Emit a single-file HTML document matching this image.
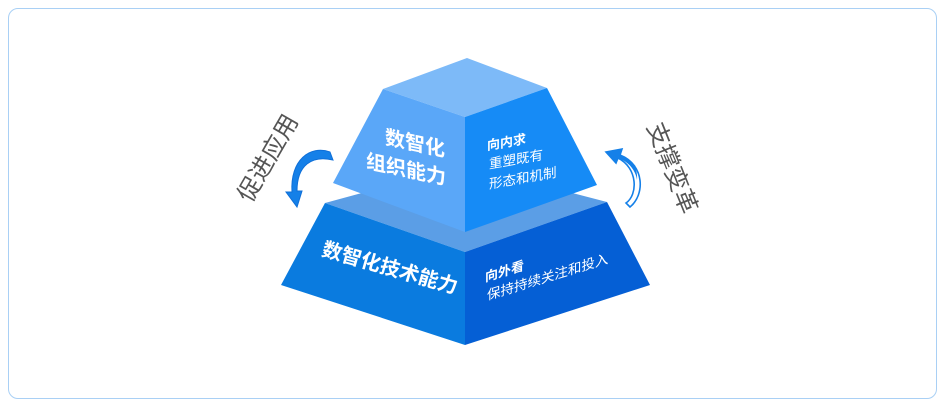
<!DOCTYPE html>
<html><head><meta charset="utf-8"><style>
html,body{margin:0;padding:0;background:#fff;}
body{width:946px;height:410px;overflow:hidden;position:relative;font-family:"Liberation Sans","Noto Sans CJK SC",sans-serif;}
.frame{position:absolute;left:8px;top:8px;width:929px;height:391px;border:1px solid #a9d0f5;border-radius:10px;box-sizing:border-box;}
</style></head><body>
<div class="frame"></div>
<svg width="946" height="410" style="position:absolute;left:0;top:0" font-family="Liberation Sans, Noto Sans CJK SC, sans-serif">
  <!-- lower block -->
  <polygon points="325,203 465,165 607,202 465,252" fill="#5b9ee6"/>
  <polygon points="325,203 465,252 465,345 281,285" fill="#0a7bdf"/>
  <polygon points="465,252 607,202 650,285 465,345" fill="#055fd5"/>
  <!-- upper block -->
  <polygon points="383,89 467,58 547,88 465,117" fill="#7dbaf8"/>
  <polygon points="383,89 465,117 465,232 333,183" fill="#5aa7f8"/>
  <polygon points="465,117 547,88 597,185 465,232" fill="#168bf6"/>
  <!-- upper text -->
  <g fill="#fff" font-weight="bold" font-size="20" transform="skewY(12)">
    <text x="385" y="62">数智化</text>
    <text x="366" y="90">组织能力</text>
  </g>
  <g fill="#fff" transform="skewY(-10)">
    <text x="487" y="236" font-size="13" font-weight="bold">向内求</text>
    <text x="489" y="255" font-size="13.5">重塑既有</text>
    <text x="489" y="275" font-size="13.5">形态和机制</text>
  </g>
  <!-- lower text -->
  <g fill="#fff" font-weight="bold" font-size="20" transform="rotate(16 390 275)">
    <text x="318" y="275">数智化技术能力</text>
  </g>
  <g fill="#fff" transform="skewY(-17)">
    <text x="485" y="430" font-size="13" font-weight="bold">向外看</text>
    <text x="487" y="449" font-size="13.5">保持持续关注和投入</text>
  </g>
  <!-- side labels -->
  <text x="268" y="166" font-size="24" fill="#555" text-anchor="middle" transform="rotate(-60 268 158)">促进应用</text>
  <text x="672" y="176" font-size="24" fill="#555" text-anchor="middle" transform="rotate(68 672 168)">支撑变革</text>
  <!-- left arrow -->
  <path d="M330,152 C310,145 290,160 292,192 L286,192 L297,207 L302,191 L297,191 C297,165 312,155 333,160 Z" fill="#1580e8" stroke="#0f6fd8" stroke-width="1"/>
  <!-- right arrow -->
  <path d="M630,207 C645,195 645,165 620,155 L622,149 L606,152 L616,163 L618,158 C638,168 638,195 626,203 Z" fill="#fff" stroke="#1580e8" stroke-width="1.6"/>
  <path d="M620,155 L622,149 L606,152 L616,163 L618,158 C630,162 636,172 637,180 C638,168 632,158 620,155Z" fill="#1580e8"/>
</svg>
</body></html>
